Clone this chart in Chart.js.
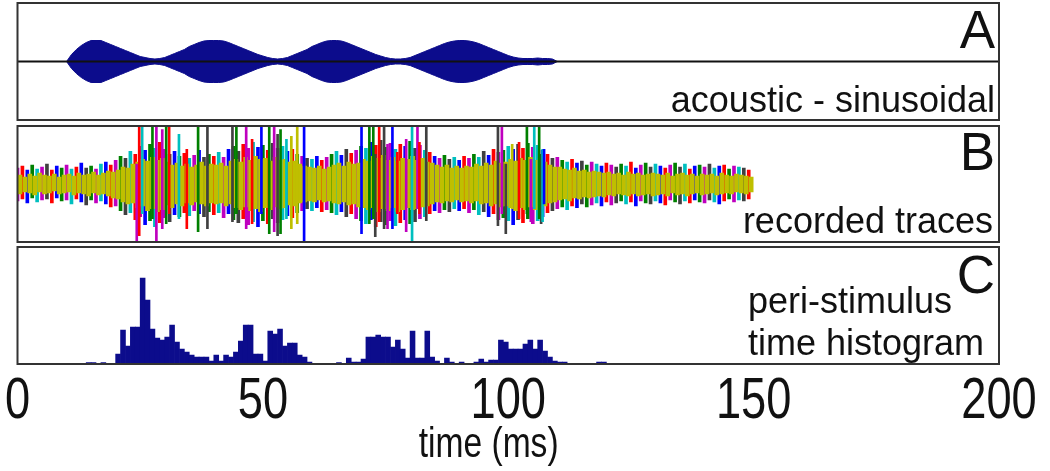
<!DOCTYPE html>
<html><head><meta charset="utf-8">
<script src="https://cdn.jsdelivr.net/npm/chart.js@4.4.1/dist/chart.umd.min.js"></script>
<style>
html,body{margin:0;padding:0;background:#fff;width:1050px;height:471px;overflow:hidden;position:relative;}
.wrap{position:absolute;left:0;width:1050px;}
.lbl{position:absolute;font-family:'Liberation Sans',Arial,Helvetica,sans-serif;color:#111;white-space:nowrap;line-height:1;}
</style></head><body>
<div class="wrap" style="top:0;height:124px"><canvas id="cA" width="1050" height="124"></canvas></div>
<div class="wrap" style="top:124px;height:122px"><canvas id="cB" width="1050" height="122"></canvas></div>
<div class="wrap" style="top:244px;height:227px"><canvas id="cC" width="1050" height="227"></canvas></div>
<div class="lbl" style="font-size:53px;right:55px;top:3px">A</div>
<div class="lbl" style="font-size:36px;right:55px;top:81.5px">acoustic - sinusoidal</div>
<div class="lbl" style="font-size:53px;right:55px;top:125px">B</div>
<div class="lbl" style="font-size:36px;right:57px;top:202.5px">recorded traces</div>
<div class="lbl" style="font-size:53px;right:55px;top:248px">C</div>
<div class="lbl" style="font-size:36px;left:748px;top:282.5px">peri-stimulus</div>
<div class="lbl" style="font-size:36px;left:748px;top:324.5px">time histogram</div>
<script>
// ---------- data ----------
const xMin = 0, xMax = 200;
const xTicks = [0, 50, 100, 150, 200];
const xTitle = 'time (ms)';

// A: envelope of the sinusoidally modulated tone (half amplitude), 1 ms steps from envStart
const envStart = 10;
const envAmp = [
  0,7,12,16,19,21,21,21,19,17,
  15,13,11,9,7,5,4,3,2.5,3,
  4,6,8,10,12,15,17,19,20.5,21,
  21,21,20.5,19,17,15,13,11,9,7,
  5.5,4,3,2.5,3,4,6,8,10,12,
  15,17,19,20.5,21,21,20.5,19,17,15,
  13,11,9,7,5.5,4,3,2.5,2.5,3,
  4,6,8,10,12,14,16,18,19.5,20.5,
  21,21,20.5,19.5,18,16,14,12,10,8,
  6,4.5,3.5,3,3,3,3.5,3,3,2.5,
  0];

// B: recorded traces, per-ms extents (t = 0..149 ms)
const outerHi = [
  16,18,14,19,15,17,20,14,18,16, 19,15,17,21,16,18,15,20,22,19,
  24,28,26,33,30,38,34,40,36,42, 35,30,33,28,31,26,29,34,27,30,
  28,32,27,35,38,33,40,36,42,37, 39,34,41,36,38,33,35,30,28,26,
  25,28,24,27,30,33,29,35,31,34, 38,36,42,39,44,37,41,35,40,38,
  43,36,39,34,32,28,26,29,25,27, 24,28,26,30,27,33,29,35,32,34,
  38,35,40,36,41,37,39,34,30,26, 27,24,22,25,21,23,19,22,20,18,
  21,19,17,20,18,22,16,19,21,17, 20,18,16,19,21,17,20,15,18,19,
  17,20,16,18,19,15,18,17,16,14];
const outerLo = [
  -17,-15,-19,-14,-18,-16,-15,-19,-14,-17, -16,-20,-15,-18,-21,-16,-19,-17,-20,-23,
  -22,-27,-31,-29,-36,-33,-41,-37,-43,-39, -34,-38,-31,-33,-29,-32,-27,-30,-33,-28,
  -31,-29,-34,-30,-36,-39,-35,-41,-38,-43, -37,-40,-35,-39,-36,-32,-34,-29,-27,-25,
  -27,-24,-28,-26,-29,-31,-28,-33,-30,-35, -37,-40,-36,-43,-38,-41,-37,-42,-39,-36,
  -40,-38,-35,-33,-30,-27,-29,-26,-28,-25, -27,-25,-29,-26,-31,-28,-33,-30,-36,-34,
  -37,-41,-36,-39,-35,-40,-37,-33,-29,-27, -25,-23,-26,-22,-24,-20,-23,-21,-19,-22,
  -18,-21,-19,-17,-20,-18,-22,-17,-19,-20, -17,-19,-21,-16,-18,-20,-17,-19,-16,-18,
  -19,-16,-18,-20,-17,-15,-18,-16,-17,-15];
const coreHi = [
  9,7,10,8,11,9,8,10,7,9, 10,8,11,9,10,12,9,11,13,12,
  14,17,16,20,22,25,23,27,24,26, 22,19,21,18,20,17,19,22,18,20,
  19,21,18,23,25,22,27,24,28,25, 26,23,27,24,25,22,23,20,18,17,
  16,18,15,17,19,21,18,22,20,21, 25,23,28,26,29,24,27,23,26,25,
  28,24,26,22,21,19,17,19,16,18, 16,18,17,20,18,21,19,23,21,22,
  25,23,26,24,27,24,26,22,19,17, 17,15,14,16,13,14,12,13,12,11,
  12,10,11,9,12,10,11,9,10,11, 10,9,11,8,10,11,9,10,8,10,
  9,10,8,11,9,8,10,9,8,7];
const coreLo = [
  -10,-8,-9,-11,-8,-10,-9,-7,-10,-9, -8,-11,-9,-10,-12,-9,-11,-10,-12,-14,
  -15,-18,-20,-19,-24,-22,-27,-25,-28,-26, -21,-24,-20,-22,-19,-21,-18,-20,-22,-19,
  -20,-19,-22,-20,-24,-26,-23,-27,-25,-28, -24,-26,-23,-25,-24,-21,-22,-19,-18,-17,
  -18,-16,-18,-17,-19,-20,-18,-21,-20,-23, -24,-26,-24,-28,-25,-27,-24,-28,-26,-24,
  -26,-25,-23,-22,-20,-18,-19,-17,-18,-16, -18,-17,-19,-17,-20,-19,-22,-20,-23,-22,
  -24,-27,-24,-26,-23,-26,-24,-22,-19,-18, -16,-15,-17,-14,-15,-13,-14,-13,-12,-13,
  -11,-12,-10,-11,-12,-10,-12,-11,-10,-12, -11,-10,-12,-9,-11,-10,-12,-10,-9,-11,
  -10,-9,-11,-10,-9,-10,-8,-9,-10,-8];
// large spikes
const spikeTime = [24.3,24.8,25.4,27.5,28.3,29.5,30.3,30.9,32.9,34.5,36.8,38.7,43.8,44.6,46.6,47.8,49.7,51.3,52.3,53.0,53.6,54.8,55.8,57.0,58.4,70.1,71.7,72.5,72.9,73.7,74.7,75.4,76.4,77.4,79.2,80.4,81.5,81.9,83.3,97.9,98.7,99.5,100.8,102.2,103.8,104.6,105.3,106.3,106.7,107.0,107.3];
const spikeLo = [-58,-52,-30,-35,-58,-45,-40,-30,-35,-45,-48,-45,-38,-30,-45,-40,-30,-50,-48,-52,-50,-35,-45,-40,-58,-50,-40,-35,-53,-38,-45,-45,-45,-30,-48,-58,-25,-30,-37,-42,-30,-50,-25,-35,-30,-38,-25,-35,-40,-38,-20];
const spikeHi = [20,58,58,58,58,55,58,58,50,35,58,58,58,58,58,45,58,58,58,50,55,45,48,58,58,58,58,58,30,58,58,40,58,32,45,58,58,42,58,58,58,20,40,42,58,25,58,58,30,35,35];

// C: PSTH, 1 ms bins starting at 0 ms
const psthCounts = [
  0,0,0,0,0,0,0,0,0,0,
  0,0,0,0,1.5,1.5,0,1.5,0,0,
  10,34,18,37,37,86,64,35,26,24,
  27,39,22,15,12,9,7,7,7,3,
  9,3,9,7,12,23,39,39,10,10,
  3,33,30,35,18,21,21,9,7,2,
  0,0,0,0,0,1.5,0,6,2,2,
  5,27,27,29,27,27,17,24,15,6,
  33,6,6,33,7,3,0,6,2,0,
  2,0,0,2,5,2,4,4,24,22,
  15,15,15,20,24,15,24,13,7,3,
  2,2,0,0,0,0,0,0,2,2];

// ---------- styles ----------
const BLUE = '#0c0c8c';
const PAL = {b:'#0000ff', g:'#008000', r:'#ff0000', c:'#00bfbf', m:'#bf00bf', y:'#bfbf00', k:'#404040'};
const strokeColorSeq = 'mrbgcmkrbgmcrbkgmcbrmgkcrmbgcrmkbgrcmbkgrcmbgkrmcbgrkmcbrgmkcbrmgcbkrmgcbrkgmcrbgkmcrbmgkcbrmgckbrmgcbkrgmcbrkmgcrbkgmcbrmkgcrbmgkcbrmgkcrbgmkcbrgmckr';
const spikeColorSeq = 'mrcgmmgrcrgkkgmrbgmkgcyybbggkrkmbrmcmrkkmkyrgmcgkcb';
const PAD = {left:17.5, right:51};

const boxPlugin = {
  id:'box',
  afterDraw(chart){
    const a = chart.chartArea, ctx = chart.ctx;
    ctx.save();
    ctx.strokeStyle = '#333'; ctx.lineWidth = 2;
    ctx.strokeRect(a.left, a.top, a.right - a.left, a.bottom - a.top);
    ctx.restore();
  }
};
// condensed tick labels and axis title for the bottom panel, placed with the x scale
const axisTextPlugin = {
  id:'axisText',
  afterDraw(chart){
    const ctx = chart.ctx, sx = chart.scales.x, a = chart.chartArea;
    ctx.save();
    ctx.fillStyle = '#111';
    ctx.textAlign = 'center'; ctx.textBaseline = 'alphabetic';
    ctx.font = "58px 'Liberation Sans', Arial, sans-serif";
    xTicks.forEach(v=>{
      ctx.save();
      ctx.translate(sx.getPixelForValue(v), a.bottom + 54);
      ctx.scale(0.78, 1);
      ctx.fillText(String(v), 0, 0);
      ctx.restore();
    });
    ctx.font = "42px 'Liberation Sans', Arial, sans-serif";
    ctx.save();
    ctx.translate(sx.getPixelForValue(96), a.bottom + 93);
    ctx.scale(0.8, 1);
    ctx.fillText(xTitle, 0, 0);
    ctx.restore();
    ctx.restore();
  }
};
const base = (extra) => Object.assign({
  responsive:false, animation:false, events:[],
  plugins:{legend:{display:false}, tooltip:{enabled:false}, title:{display:false}}
}, extra);

// ---------- Panel A ----------
const envUpper = envAmp.map((v,i)=>({x:envStart+i, y:v}));
const envLower = envAmp.map((v,i)=>({x:envStart+i, y:-v}));
new Chart(document.getElementById('cA'), {
  type:'line',
  data:{datasets:[
    {data:envUpper, borderColor:BLUE, backgroundColor:BLUE, borderWidth:1, pointRadius:0, fill:'+1', order:2},
    {data:envLower, borderColor:BLUE, backgroundColor:BLUE, borderWidth:1, pointRadius:0, fill:false, order:2},
    {data:[{x:xMin,y:0},{x:xMax,y:0}], borderColor:'#111', borderWidth:2, pointRadius:0, fill:false, order:0}
  ]},
  options: base({
    layout:{padding:{left:PAD.left, right:PAD.right, top:3, bottom:4}},
    scales:{
      x:{type:'linear', min:xMin, max:xMax, display:false},
      y:{type:'linear', min:-58.5, max:58.5, display:false}
    }
  }),
  plugins:[boxPlugin]
});

// ---------- Panel B ----------
const bDatasets = [];
// yellow trace (plotted last, on top of the others), centred in each 1 ms sample bin
bDatasets.push({type:'bar', data:coreHi.map((h,t)=>({x:t+0.5, y:[coreLo[t], h]})), backgroundColor:PAL.y, barThickness:4, grouped:false, order:3});
['b','g','r','c','m','k'].forEach(k=>{
  const d = [];
  outerHi.forEach((h,t)=>{ if (strokeColorSeq[t % strokeColorSeq.length] === k) d.push({x:t, y:[outerLo[t], h]}); });
  bDatasets.push({type:'bar', data:d, backgroundColor:PAL[k], barThickness:3, grouped:false, order:5});
});
Object.keys(PAL).forEach(k=>{
  const d = [];
  spikeTime.forEach((t,i)=>{ if (spikeColorSeq[i] === k) d.push({x:t, y:[spikeLo[i], spikeHi[i]]}); });
  if (d.length) bDatasets.push({type:'bar', data:d, backgroundColor:PAL[k], barThickness:2, grouped:false, order:1});
});
new Chart(document.getElementById('cB'), {
  type:'bar',
  data:{datasets:bDatasets},
  options: base({
    layout:{padding:{left:PAD.left, right:PAD.right, top:2, bottom:4}},
    scales:{
      x:{type:'linear', min:xMin, max:xMax, display:false, offset:false},
      y:{type:'linear', min:-58.5, max:58.5, display:false}
    }
  }),
  plugins:[boxPlugin]
});

// ---------- Panel C ----------
new Chart(document.getElementById('cC'), {
  type:'bar',
  data:{datasets:[{
    data: psthCounts.map((v,k)=>({x:k+0.5, y:v})),
    backgroundColor:BLUE, borderWidth:0, barPercentage:1, categoryPercentage:1, grouped:false
  }]},
  options: base({
    layout:{padding:{left:PAD.left, right:PAD.right, top:3, bottom:107}},
    scales:{
      x:{type:'linear', min:xMin, max:xMax, offset:false, display:false},
      y:{type:'linear', min:0, max:117, display:false}
    }
  }),
  plugins:[boxPlugin, axisTextPlugin]
});
</script>
</body></html>
